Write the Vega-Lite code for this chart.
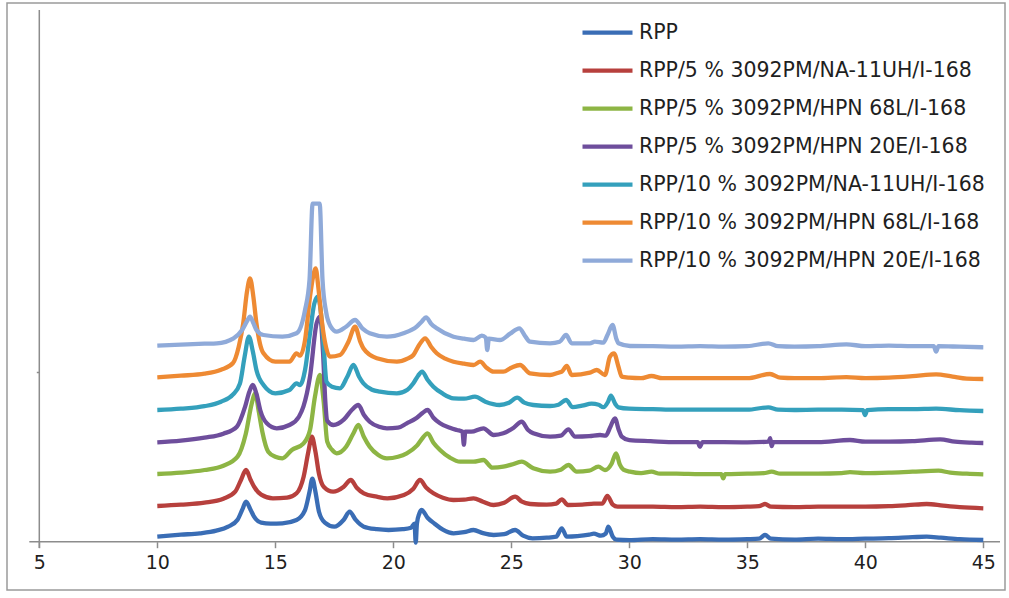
{
  "$schema": "https://vega.github.io/schema/vega-lite/v6.json",
  "width": 998,
  "height": 587,
  "autosize": {"type": "none"},
  "padding": {"left": 7, "top": 3, "right": 4, "bottom": 8},
  "background": "white",
  "config": {
    "view": {"stroke": "#9a9a9a", "strokeWidth": 1.5},
    "legend": {
      "orient": "none", "legendX": 573, "legendY": 10.7, "padding": 0,
      "symbolType": "stroke", "symbolSize": 2500, "symbolStrokeWidth": 4.3,
      "labelFont": "DejaVu Sans", "labelFontSize": 20.5, "labelColor": "#1f1f1f",
      "labelOffset": 4, "labelLimit": 700, "clipHeight": 38, "rowPadding": 0
    }
  },
  "layer": [
    {
      "data": {"values": [{"x": 4.576, "x2": 45.707, "y": 0}]},
      "mark": {"type": "rule", "color": "#8c8c8c", "strokeWidth": 1.5},
      "encoding": {
        "x": {"field": "x", "type": "quantitative", "scale": {"domain": [3.631, 45.919], "nice": false, "zero": false}},
        "x2": {"field": "x2"},
        "y": {"field": "y", "type": "quantitative", "scale": {"domain": [-48.3, 538.7], "nice": false, "zero": false}}
      }
    },
    {
      "data": {"values": [{"x": 5, "y": -6.3, "y2": 531.7}]},
      "mark": {"type": "rule", "color": "#8c8c8c", "strokeWidth": 1.5},
      "encoding": {
        "x": {"field": "x", "type": "quantitative"},
        "y": {"field": "y", "type": "quantitative"},
        "y2": {"field": "y2"}
      }
    },
    {
      "data": {"values": [
{"s":"RPP","x":10,"y":5},{"s":"RPP","x":11,"y":7},{"s":"RPP","x":11.8,"y":8.4},{"s":"RPP","x":12.5,"y":11},{"s":"RPP","x":13,"y":15},{"s":"RPP","x":13.4,"y":22},{"s":"RPP","x":13.6,"y":32},{"s":"RPP","x":13.76,"y":40},{"s":"RPP","x":13.95,"y":32},{"s":"RPP","x":14.1,"y":25},{"s":"RPP","x":14.4,"y":19},{"s":"RPP","x":14.8,"y":18},{"s":"RPP","x":15.3,"y":18.4},{"s":"RPP","x":15.9,"y":21.7},{"s":"RPP","x":16.25,"y":31},{"s":"RPP","x":16.45,"y":50},{"s":"RPP","x":16.57,"y":63},{"s":"RPP","x":16.7,"y":50},{"s":"RPP","x":16.85,"y":30},{"s":"RPP","x":17.1,"y":19},{"s":"RPP","x":17.5,"y":15},{"s":"RPP","x":17.9,"y":22},{"s":"RPP","x":18.15,"y":30},{"s":"RPP","x":18.4,"y":22},{"s":"RPP","x":18.75,"y":15},{"s":"RPP","x":19.3,"y":12.5},{"s":"RPP","x":19.8,"y":11.7},{"s":"RPP","x":20.4,"y":12.5},{"s":"RPP","x":20.75,"y":14},{"s":"RPP","x":20.9,"y":18},{"s":"RPP","x":20.95,"y":-1},{"s":"RPP","x":21.0,"y":18},{"s":"RPP","x":21.1,"y":28},{"s":"RPP","x":21.2,"y":31.7},{"s":"RPP","x":21.45,"y":24},{"s":"RPP","x":21.75,"y":18},{"s":"RPP","x":22.1,"y":12},{"s":"RPP","x":22.55,"y":8.4},{"s":"RPP","x":23.0,"y":9.5},{"s":"RPP","x":23.4,"y":11.7},{"s":"RPP","x":23.8,"y":8.5},{"s":"RPP","x":24.25,"y":6.7},{"s":"RPP","x":24.7,"y":7.5},{"s":"RPP","x":25.16,"y":11.7},{"s":"RPP","x":25.5,"y":6},{"s":"RPP","x":25.9,"y":3.4},{"s":"RPP","x":26.5,"y":4},{"s":"RPP","x":26.9,"y":5},{"s":"RPP","x":27.14,"y":13.4},{"s":"RPP","x":27.35,"y":5},{"s":"RPP","x":27.8,"y":5.5},{"s":"RPP","x":28.3,"y":7},{"s":"RPP","x":28.5,"y":8},{"s":"RPP","x":28.8,"y":6},{"s":"RPP","x":29.0,"y":8},{"s":"RPP","x":29.11,"y":15},{"s":"RPP","x":29.3,"y":5},{"s":"RPP","x":29.45,"y":2},{"s":"RPP","x":30,"y":1.5},{"s":"RPP","x":31,"y":2.5},{"s":"RPP","x":32,"y":2},{"s":"RPP","x":33,"y":2.5},{"s":"RPP","x":34,"y":2},{"s":"RPP","x":35,"y":2.5},{"s":"RPP","x":35.5,"y":3},{"s":"RPP","x":35.75,"y":6.7},{"s":"RPP","x":36,"y":3},{"s":"RPP","x":37,"y":2},{"s":"RPP","x":38,"y":3},{"s":"RPP","x":39,"y":2.5},{"s":"RPP","x":40,"y":3},{"s":"RPP","x":41,"y":3.5},{"s":"RPP","x":42,"y":4.5},{"s":"RPP","x":42.6,"y":5},{"s":"RPP","x":43.2,"y":4},{"s":"RPP","x":44,"y":2.5},{"s":"RPP","x":45,"y":1.7},
{"s":"RPP/5 % 3092PM/NA-11UH/I-168","x":10,"y":35.7},{"s":"RPP/5 % 3092PM/NA-11UH/I-168","x":11,"y":37},{"s":"RPP/5 % 3092PM/NA-11UH/I-168","x":12,"y":39},{"s":"RPP/5 % 3092PM/NA-11UH/I-168","x":12.8,"y":43},{"s":"RPP/5 % 3092PM/NA-11UH/I-168","x":13.3,"y":50},{"s":"RPP/5 % 3092PM/NA-11UH/I-168","x":13.55,"y":62},{"s":"RPP/5 % 3092PM/NA-11UH/I-168","x":13.76,"y":71.7},{"s":"RPP/5 % 3092PM/NA-11UH/I-168","x":13.95,"y":62},{"s":"RPP/5 % 3092PM/NA-11UH/I-168","x":14.1,"y":55},{"s":"RPP/5 % 3092PM/NA-11UH/I-168","x":14.4,"y":47},{"s":"RPP/5 % 3092PM/NA-11UH/I-168","x":14.9,"y":43.4},{"s":"RPP/5 % 3092PM/NA-11UH/I-168","x":15.5,"y":44},{"s":"RPP/5 % 3092PM/NA-11UH/I-168","x":15.9,"y":48.4},{"s":"RPP/5 % 3092PM/NA-11UH/I-168","x":16.2,"y":65},{"s":"RPP/5 % 3092PM/NA-11UH/I-168","x":16.4,"y":90},{"s":"RPP/5 % 3092PM/NA-11UH/I-168","x":16.55,"y":105},{"s":"RPP/5 % 3092PM/NA-11UH/I-168","x":16.7,"y":90},{"s":"RPP/5 % 3092PM/NA-11UH/I-168","x":16.85,"y":68},{"s":"RPP/5 % 3092PM/NA-11UH/I-168","x":17.05,"y":55},{"s":"RPP/5 % 3092PM/NA-11UH/I-168","x":17.45,"y":50},{"s":"RPP/5 % 3092PM/NA-11UH/I-168","x":17.9,"y":55},{"s":"RPP/5 % 3092PM/NA-11UH/I-168","x":18.2,"y":61.7},{"s":"RPP/5 % 3092PM/NA-11UH/I-168","x":18.45,"y":54},{"s":"RPP/5 % 3092PM/NA-11UH/I-168","x":18.75,"y":48.4},{"s":"RPP/5 % 3092PM/NA-11UH/I-168","x":19.3,"y":45},{"s":"RPP/5 % 3092PM/NA-11UH/I-168","x":19.75,"y":43.4},{"s":"RPP/5 % 3092PM/NA-11UH/I-168","x":20.45,"y":46.7},{"s":"RPP/5 % 3092PM/NA-11UH/I-168","x":20.85,"y":53},{"s":"RPP/5 % 3092PM/NA-11UH/I-168","x":21.13,"y":61.7},{"s":"RPP/5 % 3092PM/NA-11UH/I-168","x":21.4,"y":54},{"s":"RPP/5 % 3092PM/NA-11UH/I-168","x":21.7,"y":48.4},{"s":"RPP/5 % 3092PM/NA-11UH/I-168","x":22.1,"y":44},{"s":"RPP/5 % 3092PM/NA-11UH/I-168","x":22.55,"y":41.7},{"s":"RPP/5 % 3092PM/NA-11UH/I-168","x":23.0,"y":42},{"s":"RPP/5 % 3092PM/NA-11UH/I-168","x":23.4,"y":43.4},{"s":"RPP/5 % 3092PM/NA-11UH/I-168","x":23.8,"y":40},{"s":"RPP/5 % 3092PM/NA-11UH/I-168","x":24.25,"y":36.7},{"s":"RPP/5 % 3092PM/NA-11UH/I-168","x":24.7,"y":39},{"s":"RPP/5 % 3092PM/NA-11UH/I-168","x":25.16,"y":45},{"s":"RPP/5 % 3092PM/NA-11UH/I-168","x":25.45,"y":40},{"s":"RPP/5 % 3092PM/NA-11UH/I-168","x":25.8,"y":37.7},{"s":"RPP/5 % 3092PM/NA-11UH/I-168","x":26.5,"y":37},{"s":"RPP/5 % 3092PM/NA-11UH/I-168","x":26.9,"y":38},{"s":"RPP/5 % 3092PM/NA-11UH/I-168","x":27.14,"y":42.4},{"s":"RPP/5 % 3092PM/NA-11UH/I-168","x":27.4,"y":36.7},{"s":"RPP/5 % 3092PM/NA-11UH/I-168","x":28,"y":37},{"s":"RPP/5 % 3092PM/NA-11UH/I-168","x":28.5,"y":38},{"s":"RPP/5 % 3092PM/NA-11UH/I-168","x":28.85,"y":38},{"s":"RPP/5 % 3092PM/NA-11UH/I-168","x":29.07,"y":45.7},{"s":"RPP/5 % 3092PM/NA-11UH/I-168","x":29.3,"y":37},{"s":"RPP/5 % 3092PM/NA-11UH/I-168","x":29.5,"y":35},{"s":"RPP/5 % 3092PM/NA-11UH/I-168","x":30,"y":35},{"s":"RPP/5 % 3092PM/NA-11UH/I-168","x":31,"y":35},{"s":"RPP/5 % 3092PM/NA-11UH/I-168","x":32,"y":34.5},{"s":"RPP/5 % 3092PM/NA-11UH/I-168","x":33,"y":35},{"s":"RPP/5 % 3092PM/NA-11UH/I-168","x":34,"y":34.5},{"s":"RPP/5 % 3092PM/NA-11UH/I-168","x":35,"y":35},{"s":"RPP/5 % 3092PM/NA-11UH/I-168","x":35.5,"y":35.5},{"s":"RPP/5 % 3092PM/NA-11UH/I-168","x":35.75,"y":37.7},{"s":"RPP/5 % 3092PM/NA-11UH/I-168","x":36,"y":35},{"s":"RPP/5 % 3092PM/NA-11UH/I-168","x":37,"y":34.5},{"s":"RPP/5 % 3092PM/NA-11UH/I-168","x":38,"y":35},{"s":"RPP/5 % 3092PM/NA-11UH/I-168","x":39,"y":35},{"s":"RPP/5 % 3092PM/NA-11UH/I-168","x":40,"y":35},{"s":"RPP/5 % 3092PM/NA-11UH/I-168","x":41,"y":35.5},{"s":"RPP/5 % 3092PM/NA-11UH/I-168","x":41.8,"y":36.5},{"s":"RPP/5 % 3092PM/NA-11UH/I-168","x":42.6,"y":37.7},{"s":"RPP/5 % 3092PM/NA-11UH/I-168","x":43.3,"y":36},{"s":"RPP/5 % 3092PM/NA-11UH/I-168","x":44,"y":34.5},{"s":"RPP/5 % 3092PM/NA-11UH/I-168","x":45,"y":33.4},
{"s":"RPP/5 % 3092PM/HPN 68L/I-168","x":10,"y":67.7},{"s":"RPP/5 % 3092PM/HPN 68L/I-168","x":11,"y":69},{"s":"RPP/5 % 3092PM/HPN 68L/I-168","x":12,"y":71.7},{"s":"RPP/5 % 3092PM/HPN 68L/I-168","x":12.8,"y":76},{"s":"RPP/5 % 3092PM/HPN 68L/I-168","x":13.4,"y":85},{"s":"RPP/5 % 3092PM/HPN 68L/I-168","x":13.75,"y":108},{"s":"RPP/5 % 3092PM/HPN 68L/I-168","x":14.0,"y":138},{"s":"RPP/5 % 3092PM/HPN 68L/I-168","x":14.15,"y":148.4},{"s":"RPP/5 % 3092PM/HPN 68L/I-168","x":14.3,"y":130},{"s":"RPP/5 % 3092PM/HPN 68L/I-168","x":14.45,"y":110},{"s":"RPP/5 % 3092PM/HPN 68L/I-168","x":14.7,"y":90},{"s":"RPP/5 % 3092PM/HPN 68L/I-168","x":15.0,"y":85},{"s":"RPP/5 % 3092PM/HPN 68L/I-168","x":15.3,"y":83.4},{"s":"RPP/5 % 3092PM/HPN 68L/I-168","x":15.7,"y":91.7},{"s":"RPP/5 % 3092PM/HPN 68L/I-168","x":16.2,"y":98.4},{"s":"RPP/5 % 3092PM/HPN 68L/I-168","x":16.47,"y":111.7},{"s":"RPP/5 % 3092PM/HPN 68L/I-168","x":16.68,"y":145},{"s":"RPP/5 % 3092PM/HPN 68L/I-168","x":16.89,"y":166.7},{"s":"RPP/5 % 3092PM/HPN 68L/I-168","x":17.05,"y":140},{"s":"RPP/5 % 3092PM/HPN 68L/I-168","x":17.2,"y":100},{"s":"RPP/5 % 3092PM/HPN 68L/I-168","x":17.4,"y":92},{"s":"RPP/5 % 3092PM/HPN 68L/I-168","x":17.6,"y":88.4},{"s":"RPP/5 % 3092PM/HPN 68L/I-168","x":18.0,"y":95},{"s":"RPP/5 % 3092PM/HPN 68L/I-168","x":18.3,"y":108},{"s":"RPP/5 % 3092PM/HPN 68L/I-168","x":18.52,"y":116.7},{"s":"RPP/5 % 3092PM/HPN 68L/I-168","x":18.75,"y":105},{"s":"RPP/5 % 3092PM/HPN 68L/I-168","x":19.0,"y":95},{"s":"RPP/5 % 3092PM/HPN 68L/I-168","x":19.35,"y":87},{"s":"RPP/5 % 3092PM/HPN 68L/I-168","x":19.73,"y":83.4},{"s":"RPP/5 % 3092PM/HPN 68L/I-168","x":20.2,"y":85},{"s":"RPP/5 % 3092PM/HPN 68L/I-168","x":20.57,"y":88.4},{"s":"RPP/5 % 3092PM/HPN 68L/I-168","x":21.0,"y":96},{"s":"RPP/5 % 3092PM/HPN 68L/I-168","x":21.25,"y":104},{"s":"RPP/5 % 3092PM/HPN 68L/I-168","x":21.45,"y":108.4},{"s":"RPP/5 % 3092PM/HPN 68L/I-168","x":21.7,"y":99},{"s":"RPP/5 % 3092PM/HPN 68L/I-168","x":21.98,"y":91.7},{"s":"RPP/5 % 3092PM/HPN 68L/I-168","x":22.4,"y":84},{"s":"RPP/5 % 3092PM/HPN 68L/I-168","x":22.83,"y":80},{"s":"RPP/5 % 3092PM/HPN 68L/I-168","x":23.4,"y":80},{"s":"RPP/5 % 3092PM/HPN 68L/I-168","x":23.82,"y":81.7},{"s":"RPP/5 % 3092PM/HPN 68L/I-168","x":24.2,"y":74},{"s":"RPP/5 % 3092PM/HPN 68L/I-168","x":24.66,"y":75},{"s":"RPP/5 % 3092PM/HPN 68L/I-168","x":25.0,"y":77},{"s":"RPP/5 % 3092PM/HPN 68L/I-168","x":25.44,"y":80},{"s":"RPP/5 % 3092PM/HPN 68L/I-168","x":25.93,"y":73.4},{"s":"RPP/5 % 3092PM/HPN 68L/I-168","x":26.64,"y":70},{"s":"RPP/5 % 3092PM/HPN 68L/I-168","x":27.1,"y":72},{"s":"RPP/5 % 3092PM/HPN 68L/I-168","x":27.42,"y":76.7},{"s":"RPP/5 % 3092PM/HPN 68L/I-168","x":27.77,"y":70},{"s":"RPP/5 % 3092PM/HPN 68L/I-168","x":28.3,"y":71},{"s":"RPP/5 % 3092PM/HPN 68L/I-168","x":28.69,"y":75},{"s":"RPP/5 % 3092PM/HPN 68L/I-168","x":28.97,"y":71.7},{"s":"RPP/5 % 3092PM/HPN 68L/I-168","x":29.25,"y":78},{"s":"RPP/5 % 3092PM/HPN 68L/I-168","x":29.44,"y":88.4},{"s":"RPP/5 % 3092PM/HPN 68L/I-168","x":29.6,"y":77},{"s":"RPP/5 % 3092PM/HPN 68L/I-168","x":29.75,"y":72},{"s":"RPP/5 % 3092PM/HPN 68L/I-168","x":30.03,"y":70},{"s":"RPP/5 % 3092PM/HPN 68L/I-168","x":30.5,"y":68.5},{"s":"RPP/5 % 3092PM/HPN 68L/I-168","x":30.94,"y":70},{"s":"RPP/5 % 3092PM/HPN 68L/I-168","x":31.3,"y":68},{"s":"RPP/5 % 3092PM/HPN 68L/I-168","x":32,"y":68},{"s":"RPP/5 % 3092PM/HPN 68L/I-168","x":33,"y":67.5},{"s":"RPP/5 % 3092PM/HPN 68L/I-168","x":33.9,"y":67.5},{"s":"RPP/5 % 3092PM/HPN 68L/I-168","x":33.98,"y":63.4},{"s":"RPP/5 % 3092PM/HPN 68L/I-168","x":34.06,"y":67.5},{"s":"RPP/5 % 3092PM/HPN 68L/I-168","x":35,"y":68},{"s":"RPP/5 % 3092PM/HPN 68L/I-168","x":35.7,"y":68.5},{"s":"RPP/5 % 3092PM/HPN 68L/I-168","x":36.03,"y":70},{"s":"RPP/5 % 3092PM/HPN 68L/I-168","x":36.4,"y":68},{"s":"RPP/5 % 3092PM/HPN 68L/I-168","x":37,"y":68},{"s":"RPP/5 % 3092PM/HPN 68L/I-168","x":38,"y":68},{"s":"RPP/5 % 3092PM/HPN 68L/I-168","x":39,"y":68.5},{"s":"RPP/5 % 3092PM/HPN 68L/I-168","x":39.35,"y":69.5},{"s":"RPP/5 % 3092PM/HPN 68L/I-168","x":40,"y":68.5},{"s":"RPP/5 % 3092PM/HPN 68L/I-168","x":41,"y":69},{"s":"RPP/5 % 3092PM/HPN 68L/I-168","x":42,"y":70},{"s":"RPP/5 % 3092PM/HPN 68L/I-168","x":43.1,"y":71},{"s":"RPP/5 % 3092PM/HPN 68L/I-168","x":43.6,"y":69},{"s":"RPP/5 % 3092PM/HPN 68L/I-168","x":44.3,"y":68},{"s":"RPP/5 % 3092PM/HPN 68L/I-168","x":45,"y":67.4},
{"s":"RPP/5 % 3092PM/HPN 20E/I-168","x":10,"y":99.4},{"s":"RPP/5 % 3092PM/HPN 20E/I-168","x":11,"y":101},{"s":"RPP/5 % 3092PM/HPN 20E/I-168","x":12,"y":104},{"s":"RPP/5 % 3092PM/HPN 20E/I-168","x":12.8,"y":108},{"s":"RPP/5 % 3092PM/HPN 20E/I-168","x":13.37,"y":115},{"s":"RPP/5 % 3092PM/HPN 20E/I-168","x":13.72,"y":135},{"s":"RPP/5 % 3092PM/HPN 20E/I-168","x":13.9,"y":150},{"s":"RPP/5 % 3092PM/HPN 20E/I-168","x":14.04,"y":156.7},{"s":"RPP/5 % 3092PM/HPN 20E/I-168","x":14.2,"y":148},{"s":"RPP/5 % 3092PM/HPN 20E/I-168","x":14.36,"y":131.7},{"s":"RPP/5 % 3092PM/HPN 20E/I-168","x":14.64,"y":118.4},{"s":"RPP/5 % 3092PM/HPN 20E/I-168","x":15.06,"y":113.4},{"s":"RPP/5 % 3092PM/HPN 20E/I-168","x":15.6,"y":116.7},{"s":"RPP/5 % 3092PM/HPN 20E/I-168","x":16.0,"y":125},{"s":"RPP/5 % 3092PM/HPN 20E/I-168","x":16.19,"y":135},{"s":"RPP/5 % 3092PM/HPN 20E/I-168","x":16.47,"y":165},{"s":"RPP/5 % 3092PM/HPN 20E/I-168","x":16.75,"y":218.4},{"s":"RPP/5 % 3092PM/HPN 20E/I-168","x":16.9,"y":225},{"s":"RPP/5 % 3092PM/HPN 20E/I-168","x":17.02,"y":190},{"s":"RPP/5 % 3092PM/HPN 20E/I-168","x":17.12,"y":140},{"s":"RPP/5 % 3092PM/HPN 20E/I-168","x":17.2,"y":121},{"s":"RPP/5 % 3092PM/HPN 20E/I-168","x":17.46,"y":116.7},{"s":"RPP/5 % 3092PM/HPN 20E/I-168","x":17.9,"y":122},{"s":"RPP/5 % 3092PM/HPN 20E/I-168","x":18.25,"y":132},{"s":"RPP/5 % 3092PM/HPN 20E/I-168","x":18.52,"y":136.7},{"s":"RPP/5 % 3092PM/HPN 20E/I-168","x":18.75,"y":127},{"s":"RPP/5 % 3092PM/HPN 20E/I-168","x":19.0,"y":120},{"s":"RPP/5 % 3092PM/HPN 20E/I-168","x":19.4,"y":115},{"s":"RPP/5 % 3092PM/HPN 20E/I-168","x":19.73,"y":113.4},{"s":"RPP/5 % 3092PM/HPN 20E/I-168","x":20.2,"y":114},{"s":"RPP/5 % 3092PM/HPN 20E/I-168","x":20.57,"y":118.4},{"s":"RPP/5 % 3092PM/HPN 20E/I-168","x":21.0,"y":124},{"s":"RPP/5 % 3092PM/HPN 20E/I-168","x":21.25,"y":129},{"s":"RPP/5 % 3092PM/HPN 20E/I-168","x":21.45,"y":131.7},{"s":"RPP/5 % 3092PM/HPN 20E/I-168","x":21.7,"y":124},{"s":"RPP/5 % 3092PM/HPN 20E/I-168","x":21.98,"y":118.4},{"s":"RPP/5 % 3092PM/HPN 20E/I-168","x":22.4,"y":114},{"s":"RPP/5 % 3092PM/HPN 20E/I-168","x":22.69,"y":111.7},{"s":"RPP/5 % 3092PM/HPN 20E/I-168","x":22.93,"y":110},{"s":"RPP/5 % 3092PM/HPN 20E/I-168","x":22.99,"y":97},{"s":"RPP/5 % 3092PM/HPN 20E/I-168","x":23.05,"y":110},{"s":"RPP/5 % 3092PM/HPN 20E/I-168","x":23.3,"y":110},{"s":"RPP/5 % 3092PM/HPN 20E/I-168","x":23.82,"y":113.4},{"s":"RPP/5 % 3092PM/HPN 20E/I-168","x":24.25,"y":106.7},{"s":"RPP/5 % 3092PM/HPN 20E/I-168","x":24.66,"y":108.4},{"s":"RPP/5 % 3092PM/HPN 20E/I-168","x":25.1,"y":114},{"s":"RPP/5 % 3092PM/HPN 20E/I-168","x":25.44,"y":120},{"s":"RPP/5 % 3092PM/HPN 20E/I-168","x":25.7,"y":112},{"s":"RPP/5 % 3092PM/HPN 20E/I-168","x":25.93,"y":108.4},{"s":"RPP/5 % 3092PM/HPN 20E/I-168","x":26.64,"y":105},{"s":"RPP/5 % 3092PM/HPN 20E/I-168","x":27.1,"y":106},{"s":"RPP/5 % 3092PM/HPN 20E/I-168","x":27.42,"y":112.4},{"s":"RPP/5 % 3092PM/HPN 20E/I-168","x":27.7,"y":105},{"s":"RPP/5 % 3092PM/HPN 20E/I-168","x":28.3,"y":105.5},{"s":"RPP/5 % 3092PM/HPN 20E/I-168","x":28.76,"y":106.7},{"s":"RPP/5 % 3092PM/HPN 20E/I-168","x":29.0,"y":106},{"s":"RPP/5 % 3092PM/HPN 20E/I-168","x":29.2,"y":115},{"s":"RPP/5 % 3092PM/HPN 20E/I-168","x":29.39,"y":123.4},{"s":"RPP/5 % 3092PM/HPN 20E/I-168","x":29.55,"y":112},{"s":"RPP/5 % 3092PM/HPN 20E/I-168","x":29.68,"y":105},{"s":"RPP/5 % 3092PM/HPN 20E/I-168","x":30,"y":101.5},{"s":"RPP/5 % 3092PM/HPN 20E/I-168","x":30.9,"y":100.5},{"s":"RPP/5 % 3092PM/HPN 20E/I-168","x":32,"y":99.5},{"s":"RPP/5 % 3092PM/HPN 20E/I-168","x":32.9,"y":99.5},{"s":"RPP/5 % 3092PM/HPN 20E/I-168","x":32.99,"y":95},{"s":"RPP/5 % 3092PM/HPN 20E/I-168","x":33.1,"y":99.5},{"s":"RPP/5 % 3092PM/HPN 20E/I-168","x":34,"y":99.5},{"s":"RPP/5 % 3092PM/HPN 20E/I-168","x":35,"y":99.4},{"s":"RPP/5 % 3092PM/HPN 20E/I-168","x":35.9,"y":100},{"s":"RPP/5 % 3092PM/HPN 20E/I-168","x":35.97,"y":103.5},{"s":"RPP/5 % 3092PM/HPN 20E/I-168","x":36.03,"y":95.5},{"s":"RPP/5 % 3092PM/HPN 20E/I-168","x":36.1,"y":99.5},{"s":"RPP/5 % 3092PM/HPN 20E/I-168","x":37,"y":99.5},{"s":"RPP/5 % 3092PM/HPN 20E/I-168","x":38,"y":99.5},{"s":"RPP/5 % 3092PM/HPN 20E/I-168","x":39.35,"y":101.7},{"s":"RPP/5 % 3092PM/HPN 20E/I-168","x":40,"y":100},{"s":"RPP/5 % 3092PM/HPN 20E/I-168","x":41,"y":100},{"s":"RPP/5 % 3092PM/HPN 20E/I-168","x":42,"y":100.5},{"s":"RPP/5 % 3092PM/HPN 20E/I-168","x":43.17,"y":102.4},{"s":"RPP/5 % 3092PM/HPN 20E/I-168","x":43.8,"y":100},{"s":"RPP/5 % 3092PM/HPN 20E/I-168","x":44.5,"y":99},{"s":"RPP/5 % 3092PM/HPN 20E/I-168","x":45,"y":98.7},
{"s":"RPP/10 % 3092PM/NA-11UH/I-168","x":10,"y":131.7},{"s":"RPP/10 % 3092PM/NA-11UH/I-168","x":11,"y":133},{"s":"RPP/10 % 3092PM/NA-11UH/I-168","x":12,"y":135.5},{"s":"RPP/10 % 3092PM/NA-11UH/I-168","x":12.7,"y":140},{"s":"RPP/10 % 3092PM/NA-11UH/I-168","x":13.2,"y":147},{"s":"RPP/10 % 3092PM/NA-11UH/I-168","x":13.5,"y":158},{"s":"RPP/10 % 3092PM/NA-11UH/I-168","x":13.7,"y":185},{"s":"RPP/10 % 3092PM/NA-11UH/I-168","x":13.88,"y":205},{"s":"RPP/10 % 3092PM/NA-11UH/I-168","x":14.05,"y":190},{"s":"RPP/10 % 3092PM/NA-11UH/I-168","x":14.2,"y":171.7},{"s":"RPP/10 % 3092PM/NA-11UH/I-168","x":14.5,"y":156.7},{"s":"RPP/10 % 3092PM/NA-11UH/I-168","x":15.0,"y":148.4},{"s":"RPP/10 % 3092PM/NA-11UH/I-168","x":15.6,"y":151.7},{"s":"RPP/10 % 3092PM/NA-11UH/I-168","x":15.9,"y":158.4},{"s":"RPP/10 % 3092PM/NA-11UH/I-168","x":16.05,"y":156.7},{"s":"RPP/10 % 3092PM/NA-11UH/I-168","x":16.26,"y":171.7},{"s":"RPP/10 % 3092PM/NA-11UH/I-168","x":16.47,"y":208.4},{"s":"RPP/10 % 3092PM/NA-11UH/I-168","x":16.65,"y":238},{"s":"RPP/10 % 3092PM/NA-11UH/I-168","x":16.8,"y":245},{"s":"RPP/10 % 3092PM/NA-11UH/I-168","x":16.95,"y":225},{"s":"RPP/10 % 3092PM/NA-11UH/I-168","x":17.05,"y":195},{"s":"RPP/10 % 3092PM/NA-11UH/I-168","x":17.17,"y":160},{"s":"RPP/10 % 3092PM/NA-11UH/I-168","x":17.4,"y":155},{"s":"RPP/10 % 3092PM/NA-11UH/I-168","x":17.74,"y":153.4},{"s":"RPP/10 % 3092PM/NA-11UH/I-168","x":18.05,"y":165},{"s":"RPP/10 % 3092PM/NA-11UH/I-168","x":18.31,"y":176.7},{"s":"RPP/10 % 3092PM/NA-11UH/I-168","x":18.55,"y":165},{"s":"RPP/10 % 3092PM/NA-11UH/I-168","x":18.73,"y":158.4},{"s":"RPP/10 % 3092PM/NA-11UH/I-168","x":19.1,"y":152},{"s":"RPP/10 % 3092PM/NA-11UH/I-168","x":19.43,"y":150},{"s":"RPP/10 % 3092PM/NA-11UH/I-168","x":20.15,"y":148.4},{"s":"RPP/10 % 3092PM/NA-11UH/I-168","x":20.6,"y":152},{"s":"RPP/10 % 3092PM/NA-11UH/I-168","x":20.85,"y":158.4},{"s":"RPP/10 % 3092PM/NA-11UH/I-168","x":21.05,"y":166},{"s":"RPP/10 % 3092PM/NA-11UH/I-168","x":21.22,"y":170},{"s":"RPP/10 % 3092PM/NA-11UH/I-168","x":21.45,"y":162},{"s":"RPP/10 % 3092PM/NA-11UH/I-168","x":21.7,"y":155},{"s":"RPP/10 % 3092PM/NA-11UH/I-168","x":22.1,"y":148},{"s":"RPP/10 % 3092PM/NA-11UH/I-168","x":22.55,"y":143.4},{"s":"RPP/10 % 3092PM/NA-11UH/I-168","x":23.0,"y":143},{"s":"RPP/10 % 3092PM/NA-11UH/I-168","x":23.46,"y":145},{"s":"RPP/10 % 3092PM/NA-11UH/I-168","x":23.9,"y":140},{"s":"RPP/10 % 3092PM/NA-11UH/I-168","x":24.5,"y":136.7},{"s":"RPP/10 % 3092PM/NA-11UH/I-168","x":24.9,"y":139},{"s":"RPP/10 % 3092PM/NA-11UH/I-168","x":25.25,"y":144},{"s":"RPP/10 % 3092PM/NA-11UH/I-168","x":25.55,"y":139},{"s":"RPP/10 % 3092PM/NA-11UH/I-168","x":25.93,"y":136.7},{"s":"RPP/10 % 3092PM/NA-11UH/I-168","x":26.64,"y":135.7},{"s":"RPP/10 % 3092PM/NA-11UH/I-168","x":27.0,"y":137},{"s":"RPP/10 % 3092PM/NA-11UH/I-168","x":27.32,"y":141.7},{"s":"RPP/10 % 3092PM/NA-11UH/I-168","x":27.6,"y":134.5},{"s":"RPP/10 % 3092PM/NA-11UH/I-168","x":28.0,"y":136},{"s":"RPP/10 % 3092PM/NA-11UH/I-168","x":28.4,"y":138},{"s":"RPP/10 % 3092PM/NA-11UH/I-168","x":28.7,"y":137},{"s":"RPP/10 % 3092PM/NA-11UH/I-168","x":28.9,"y":134.5},{"s":"RPP/10 % 3092PM/NA-11UH/I-168","x":29.1,"y":140},{"s":"RPP/10 % 3092PM/NA-11UH/I-168","x":29.22,"y":146},{"s":"RPP/10 % 3092PM/NA-11UH/I-168","x":29.4,"y":138},{"s":"RPP/10 % 3092PM/NA-11UH/I-168","x":29.54,"y":134.4},{"s":"RPP/10 % 3092PM/NA-11UH/I-168","x":30,"y":133},{"s":"RPP/10 % 3092PM/NA-11UH/I-168","x":31,"y":132.5},{"s":"RPP/10 % 3092PM/NA-11UH/I-168","x":32,"y":132},{"s":"RPP/10 % 3092PM/NA-11UH/I-168","x":33,"y":132},{"s":"RPP/10 % 3092PM/NA-11UH/I-168","x":34,"y":132},{"s":"RPP/10 % 3092PM/NA-11UH/I-168","x":35,"y":132},{"s":"RPP/10 % 3092PM/NA-11UH/I-168","x":35.89,"y":134.4},{"s":"RPP/10 % 3092PM/NA-11UH/I-168","x":36.3,"y":132},{"s":"RPP/10 % 3092PM/NA-11UH/I-168","x":37,"y":131.7},{"s":"RPP/10 % 3092PM/NA-11UH/I-168","x":38,"y":132},{"s":"RPP/10 % 3092PM/NA-11UH/I-168","x":39,"y":132},{"s":"RPP/10 % 3092PM/NA-11UH/I-168","x":39.9,"y":131.5},{"s":"RPP/10 % 3092PM/NA-11UH/I-168","x":39.99,"y":126.7},{"s":"RPP/10 % 3092PM/NA-11UH/I-168","x":40.08,"y":131.5},{"s":"RPP/10 % 3092PM/NA-11UH/I-168","x":41,"y":132.5},{"s":"RPP/10 % 3092PM/NA-11UH/I-168","x":42,"y":132.5},{"s":"RPP/10 % 3092PM/NA-11UH/I-168","x":43,"y":133},{"s":"RPP/10 % 3092PM/NA-11UH/I-168","x":44,"y":131.5},{"s":"RPP/10 % 3092PM/NA-11UH/I-168","x":45,"y":130.7},
{"s":"RPP/10 % 3092PM/HPN 68L/I-168","x":10,"y":164.4},{"s":"RPP/10 % 3092PM/HPN 68L/I-168","x":11,"y":166},{"s":"RPP/10 % 3092PM/HPN 68L/I-168","x":12,"y":168},{"s":"RPP/10 % 3092PM/HPN 68L/I-168","x":12.7,"y":172},{"s":"RPP/10 % 3092PM/HPN 68L/I-168","x":13.2,"y":178.4},{"s":"RPP/10 % 3092PM/HPN 68L/I-168","x":13.45,"y":195},{"s":"RPP/10 % 3092PM/HPN 68L/I-168","x":13.64,"y":218.4},{"s":"RPP/10 % 3092PM/HPN 68L/I-168","x":13.8,"y":250},{"s":"RPP/10 % 3092PM/HPN 68L/I-168","x":13.93,"y":263.4},{"s":"RPP/10 % 3092PM/HPN 68L/I-168","x":14.07,"y":245},{"s":"RPP/10 % 3092PM/HPN 68L/I-168","x":14.2,"y":218.4},{"s":"RPP/10 % 3092PM/HPN 68L/I-168","x":14.35,"y":198},{"s":"RPP/10 % 3092PM/HPN 68L/I-168","x":14.5,"y":188.4},{"s":"RPP/10 % 3092PM/HPN 68L/I-168","x":15.0,"y":180},{"s":"RPP/10 % 3092PM/HPN 68L/I-168","x":15.6,"y":180},{"s":"RPP/10 % 3092PM/HPN 68L/I-168","x":15.9,"y":188.4},{"s":"RPP/10 % 3092PM/HPN 68L/I-168","x":16.05,"y":186},{"s":"RPP/10 % 3092PM/HPN 68L/I-168","x":16.26,"y":201.7},{"s":"RPP/10 % 3092PM/HPN 68L/I-168","x":16.47,"y":245},{"s":"RPP/10 % 3092PM/HPN 68L/I-168","x":16.6,"y":265},{"s":"RPP/10 % 3092PM/HPN 68L/I-168","x":16.71,"y":273.4},{"s":"RPP/10 % 3092PM/HPN 68L/I-168","x":16.82,"y":255},{"s":"RPP/10 % 3092PM/HPN 68L/I-168","x":16.95,"y":225},{"s":"RPP/10 % 3092PM/HPN 68L/I-168","x":17.1,"y":200},{"s":"RPP/10 % 3092PM/HPN 68L/I-168","x":17.32,"y":185},{"s":"RPP/10 % 3092PM/HPN 68L/I-168","x":17.74,"y":186.7},{"s":"RPP/10 % 3092PM/HPN 68L/I-168","x":18.1,"y":200},{"s":"RPP/10 % 3092PM/HPN 68L/I-168","x":18.38,"y":215},{"s":"RPP/10 % 3092PM/HPN 68L/I-168","x":18.6,"y":200},{"s":"RPP/10 % 3092PM/HPN 68L/I-168","x":18.73,"y":193.4},{"s":"RPP/10 % 3092PM/HPN 68L/I-168","x":19.3,"y":183.4},{"s":"RPP/10 % 3092PM/HPN 68L/I-168","x":20.15,"y":180},{"s":"RPP/10 % 3092PM/HPN 68L/I-168","x":20.6,"y":183},{"s":"RPP/10 % 3092PM/HPN 68L/I-168","x":20.85,"y":186.7},{"s":"RPP/10 % 3092PM/HPN 68L/I-168","x":21.1,"y":197},{"s":"RPP/10 % 3092PM/HPN 68L/I-168","x":21.35,"y":203.4},{"s":"RPP/10 % 3092PM/HPN 68L/I-168","x":21.6,"y":195},{"s":"RPP/10 % 3092PM/HPN 68L/I-168","x":21.84,"y":188.4},{"s":"RPP/10 % 3092PM/HPN 68L/I-168","x":22.2,"y":183},{"s":"RPP/10 % 3092PM/HPN 68L/I-168","x":22.55,"y":180},{"s":"RPP/10 % 3092PM/HPN 68L/I-168","x":23.0,"y":178},{"s":"RPP/10 % 3092PM/HPN 68L/I-168","x":23.4,"y":176.7},{"s":"RPP/10 % 3092PM/HPN 68L/I-168","x":23.68,"y":180},{"s":"RPP/10 % 3092PM/HPN 68L/I-168","x":23.95,"y":174},{"s":"RPP/10 % 3092PM/HPN 68L/I-168","x":24.25,"y":170},{"s":"RPP/10 % 3092PM/HPN 68L/I-168","x":24.66,"y":170},{"s":"RPP/10 % 3092PM/HPN 68L/I-168","x":25.0,"y":174},{"s":"RPP/10 % 3092PM/HPN 68L/I-168","x":25.37,"y":176.7},{"s":"RPP/10 % 3092PM/HPN 68L/I-168","x":25.79,"y":168.4},{"s":"RPP/10 % 3092PM/HPN 68L/I-168","x":26.64,"y":166.7},{"s":"RPP/10 % 3092PM/HPN 68L/I-168","x":27.0,"y":169},{"s":"RPP/10 % 3092PM/HPN 68L/I-168","x":27.14,"y":170},{"s":"RPP/10 % 3092PM/HPN 68L/I-168","x":27.35,"y":175.7},{"s":"RPP/10 % 3092PM/HPN 68L/I-168","x":27.56,"y":166.7},{"s":"RPP/10 % 3092PM/HPN 68L/I-168","x":28.33,"y":169},{"s":"RPP/10 % 3092PM/HPN 68L/I-168","x":28.62,"y":171.7},{"s":"RPP/10 % 3092PM/HPN 68L/I-168","x":28.97,"y":166.7},{"s":"RPP/10 % 3092PM/HPN 68L/I-168","x":29.18,"y":185},{"s":"RPP/10 % 3092PM/HPN 68L/I-168","x":29.35,"y":188.4},{"s":"RPP/10 % 3092PM/HPN 68L/I-168","x":29.54,"y":175},{"s":"RPP/10 % 3092PM/HPN 68L/I-168","x":29.68,"y":165},{"s":"RPP/10 % 3092PM/HPN 68L/I-168","x":30,"y":164},{"s":"RPP/10 % 3092PM/HPN 68L/I-168","x":30.5,"y":163.5},{"s":"RPP/10 % 3092PM/HPN 68L/I-168","x":30.94,"y":165.7},{"s":"RPP/10 % 3092PM/HPN 68L/I-168","x":31.4,"y":163.5},{"s":"RPP/10 % 3092PM/HPN 68L/I-168","x":32,"y":163.5},{"s":"RPP/10 % 3092PM/HPN 68L/I-168","x":33,"y":163.5},{"s":"RPP/10 % 3092PM/HPN 68L/I-168","x":34,"y":163.5},{"s":"RPP/10 % 3092PM/HPN 68L/I-168","x":35,"y":163.5},{"s":"RPP/10 % 3092PM/HPN 68L/I-168","x":35.96,"y":167.7},{"s":"RPP/10 % 3092PM/HPN 68L/I-168","x":36.4,"y":164},{"s":"RPP/10 % 3092PM/HPN 68L/I-168","x":37,"y":163.5},{"s":"RPP/10 % 3092PM/HPN 68L/I-168","x":38,"y":163.5},{"s":"RPP/10 % 3092PM/HPN 68L/I-168","x":39.2,"y":164.5},{"s":"RPP/10 % 3092PM/HPN 68L/I-168","x":40,"y":163.5},{"s":"RPP/10 % 3092PM/HPN 68L/I-168","x":41,"y":164},{"s":"RPP/10 % 3092PM/HPN 68L/I-168","x":42,"y":165.5},{"s":"RPP/10 % 3092PM/HPN 68L/I-168","x":43,"y":167.4},{"s":"RPP/10 % 3092PM/HPN 68L/I-168","x":43.7,"y":165},{"s":"RPP/10 % 3092PM/HPN 68L/I-168","x":44.3,"y":163},{"s":"RPP/10 % 3092PM/HPN 68L/I-168","x":45,"y":162.7},
{"s":"RPP/10 % 3092PM/HPN 20E/I-168","x":10,"y":196},{"s":"RPP/10 % 3092PM/HPN 20E/I-168","x":11,"y":197},{"s":"RPP/10 % 3092PM/HPN 20E/I-168","x":12,"y":198},{"s":"RPP/10 % 3092PM/HPN 20E/I-168","x":12.52,"y":198.4},{"s":"RPP/10 % 3092PM/HPN 20E/I-168","x":13.23,"y":203.4},{"s":"RPP/10 % 3092PM/HPN 20E/I-168","x":13.6,"y":212},{"s":"RPP/10 % 3092PM/HPN 20E/I-168","x":13.79,"y":220},{"s":"RPP/10 % 3092PM/HPN 20E/I-168","x":13.93,"y":225},{"s":"RPP/10 % 3092PM/HPN 20E/I-168","x":14.08,"y":218},{"s":"RPP/10 % 3092PM/HPN 20E/I-168","x":14.2,"y":211.7},{"s":"RPP/10 % 3092PM/HPN 20E/I-168","x":14.5,"y":206.7},{"s":"RPP/10 % 3092PM/HPN 20E/I-168","x":15.3,"y":205},{"s":"RPP/10 % 3092PM/HPN 20E/I-168","x":15.9,"y":208.4},{"s":"RPP/10 % 3092PM/HPN 20E/I-168","x":16.26,"y":231.7},{"s":"RPP/10 % 3092PM/HPN 20E/I-168","x":16.45,"y":262},{"s":"RPP/10 % 3092PM/HPN 20E/I-168","x":16.58,"y":338},{"s":"RPP/10 % 3092PM/HPN 20E/I-168","x":16.88,"y":338},{"s":"RPP/10 % 3092PM/HPN 20E/I-168","x":17.0,"y":262},{"s":"RPP/10 % 3092PM/HPN 20E/I-168","x":17.15,"y":230},{"s":"RPP/10 % 3092PM/HPN 20E/I-168","x":17.35,"y":215},{"s":"RPP/10 % 3092PM/HPN 20E/I-168","x":17.6,"y":210},{"s":"RPP/10 % 3092PM/HPN 20E/I-168","x":18.0,"y":215},{"s":"RPP/10 % 3092PM/HPN 20E/I-168","x":18.38,"y":221.7},{"s":"RPP/10 % 3092PM/HPN 20E/I-168","x":18.7,"y":213},{"s":"RPP/10 % 3092PM/HPN 20E/I-168","x":19.0,"y":208.4},{"s":"RPP/10 % 3092PM/HPN 20E/I-168","x":19.73,"y":205},{"s":"RPP/10 % 3092PM/HPN 20E/I-168","x":20.43,"y":208.4},{"s":"RPP/10 % 3092PM/HPN 20E/I-168","x":20.99,"y":215},{"s":"RPP/10 % 3092PM/HPN 20E/I-168","x":21.2,"y":220},{"s":"RPP/10 % 3092PM/HPN 20E/I-168","x":21.39,"y":224.4},{"s":"RPP/10 % 3092PM/HPN 20E/I-168","x":21.6,"y":218},{"s":"RPP/10 % 3092PM/HPN 20E/I-168","x":21.84,"y":213.4},{"s":"RPP/10 % 3092PM/HPN 20E/I-168","x":22.55,"y":205},{"s":"RPP/10 % 3092PM/HPN 20E/I-168","x":23.0,"y":203},{"s":"RPP/10 % 3092PM/HPN 20E/I-168","x":23.4,"y":201.7},{"s":"RPP/10 % 3092PM/HPN 20E/I-168","x":23.75,"y":206},{"s":"RPP/10 % 3092PM/HPN 20E/I-168","x":23.92,"y":204},{"s":"RPP/10 % 3092PM/HPN 20E/I-168","x":23.98,"y":191.7},{"s":"RPP/10 % 3092PM/HPN 20E/I-168","x":24.05,"y":203},{"s":"RPP/10 % 3092PM/HPN 20E/I-168","x":24.52,"y":201.7},{"s":"RPP/10 % 3092PM/HPN 20E/I-168","x":24.95,"y":208},{"s":"RPP/10 % 3092PM/HPN 20E/I-168","x":25.34,"y":213.4},{"s":"RPP/10 % 3092PM/HPN 20E/I-168","x":25.6,"y":205},{"s":"RPP/10 % 3092PM/HPN 20E/I-168","x":25.79,"y":200},{"s":"RPP/10 % 3092PM/HPN 20E/I-168","x":26.64,"y":198.4},{"s":"RPP/10 % 3092PM/HPN 20E/I-168","x":27.05,"y":200},{"s":"RPP/10 % 3092PM/HPN 20E/I-168","x":27.32,"y":206.7},{"s":"RPP/10 % 3092PM/HPN 20E/I-168","x":27.56,"y":198.4},{"s":"RPP/10 % 3092PM/HPN 20E/I-168","x":28.33,"y":198.4},{"s":"RPP/10 % 3092PM/HPN 20E/I-168","x":28.54,"y":200},{"s":"RPP/10 % 3092PM/HPN 20E/I-168","x":28.9,"y":199},{"s":"RPP/10 % 3092PM/HPN 20E/I-168","x":29.08,"y":207},{"s":"RPP/10 % 3092PM/HPN 20E/I-168","x":29.29,"y":216.7},{"s":"RPP/10 % 3092PM/HPN 20E/I-168","x":29.45,"y":203},{"s":"RPP/10 % 3092PM/HPN 20E/I-168","x":29.54,"y":198.4},{"s":"RPP/10 % 3092PM/HPN 20E/I-168","x":30.03,"y":195.7},{"s":"RPP/10 % 3092PM/HPN 20E/I-168","x":31,"y":195.5},{"s":"RPP/10 % 3092PM/HPN 20E/I-168","x":32,"y":195},{"s":"RPP/10 % 3092PM/HPN 20E/I-168","x":33,"y":195.5},{"s":"RPP/10 % 3092PM/HPN 20E/I-168","x":34,"y":195},{"s":"RPP/10 % 3092PM/HPN 20E/I-168","x":35,"y":195.5},{"s":"RPP/10 % 3092PM/HPN 20E/I-168","x":35.89,"y":198.4},{"s":"RPP/10 % 3092PM/HPN 20E/I-168","x":36.3,"y":195.5},{"s":"RPP/10 % 3092PM/HPN 20E/I-168","x":37,"y":195},{"s":"RPP/10 % 3092PM/HPN 20E/I-168","x":38,"y":195.5},{"s":"RPP/10 % 3092PM/HPN 20E/I-168","x":39.2,"y":197.4},{"s":"RPP/10 % 3092PM/HPN 20E/I-168","x":40,"y":195.5},{"s":"RPP/10 % 3092PM/HPN 20E/I-168","x":41,"y":196},{"s":"RPP/10 % 3092PM/HPN 20E/I-168","x":42,"y":195.5},{"s":"RPP/10 % 3092PM/HPN 20E/I-168","x":42.9,"y":195.5},{"s":"RPP/10 % 3092PM/HPN 20E/I-168","x":43.0,"y":190},{"s":"RPP/10 % 3092PM/HPN 20E/I-168","x":43.1,"y":195.5},{"s":"RPP/10 % 3092PM/HPN 20E/I-168","x":44,"y":195},{"s":"RPP/10 % 3092PM/HPN 20E/I-168","x":45,"y":194.4}
      ]},
      "mark": {"type": "line", "strokeWidth": 4.3, "interpolate": "monotone"},
      "encoding": {
        "x": {"field": "x", "type": "quantitative",
              "axis": {"orient": "bottom", "offset": -48.3, "values": [5,10,15,20,25,30,35,40,45], "format": "d", "title": null, "domain": false, "grid": false, "tickSize": 6, "tickColor": "#8c8c8c", "tickWidth": 1.5, "labelFont": "DejaVu Sans", "labelFontSize": 19, "labelColor": "#1f1f1f", "labelPadding": 6}},
        "y": {"field": "y", "type": "quantitative",
              "axis": {"orient": "left", "offset": -32.3, "values": [169.4], "labels": false, "title": null, "domain": false, "grid": false, "tickSize": 3, "tickColor": "#8c8c8c", "tickWidth": 1.5}},
        "color": {"field": "s", "type": "nominal", "title": null,
                  "scale": {"domain": ["RPP", "RPP/5 % 3092PM/NA-11UH/I-168", "RPP/5 % 3092PM/HPN 68L/I-168", "RPP/5 % 3092PM/HPN 20E/I-168", "RPP/10 % 3092PM/NA-11UH/I-168", "RPP/10 % 3092PM/HPN 68L/I-168", "RPP/10 % 3092PM/HPN 20E/I-168"],
                            "range": ["#3A6DB5", "#B7403D", "#8DB544", "#6E4E9C", "#34A0BC", "#EE8A33", "#8FAAD9"]}}
      }
    }
  ]
}
